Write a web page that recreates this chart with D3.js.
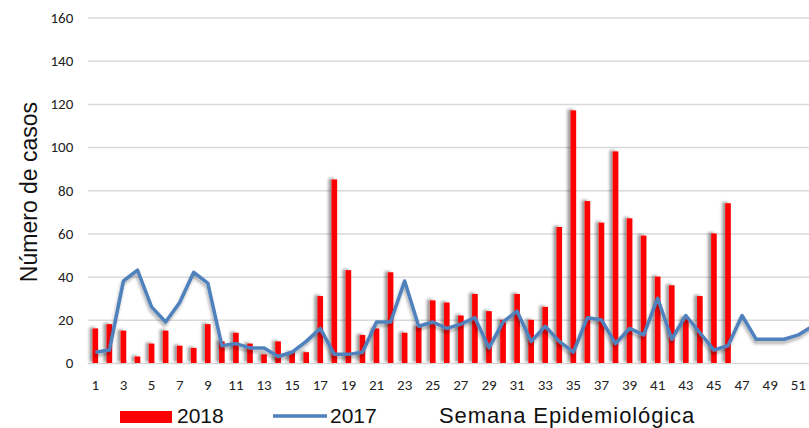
<!DOCTYPE html>
<html>
<head>
<meta charset="utf-8">
<script src="https://cdn.jsdelivr.net/npm/d3@7"></script>
<style>
  body { margin: 0; background: #fff; }
  svg { display: block; }
  .legend text, .title { font-family: "Liberation Sans", Arial, sans-serif; fill: #111; }
</style>
</head>
<body>
<div id="chart"></div>
<script>
// Semana epidemiológica 1..52
var weeks = d3.range(1, 53);

// casos 2018 (barras) - semanas 1 a 46
var cases2018 = [16, 18, 15, 3, 9, 15, 8, 7, 18, 10,
                 14, 9, 4, 10, 5, 5, 31, 85, 43, 13,
                 16, 42, 14, 17, 29, 28, 22, 32, 24, 20,
                 32, 20, 26, 63, 117, 75, 65, 98, 67, 59,
                 40, 36, 21, 31, 60, 74];

// casos 2017 (linea) - semanas 1 a 52
var cases2017 = [5, 6, 38, 43, 26, 19, 28, 42, 37, 8,
                 9, 7, 7, 3, 5, 10, 16, 4, 4, 5,
                 19, 19, 38, 17, 19, 16, 18, 21, 7, 19,
                 24, 10, 17, 10, 5, 21, 20, 9, 16, 13,
                 30, 11, 22, 14, 6, 8, 22, 11, 11, 11,
                 13, 17];

var yTicks = [0, 20, 40, 60, 80, 100, 120, 140, 160];
var xTicks = weeks.filter(d => d % 2 === 1);

// SVG area
var svgWidth = 809;
var svgHeight = 428;

var chartMargin = { top: 17.5, left: 88.3 };
var width = 731.1;   // runs past the right edge, as in the original
var height = 345.5;

var svg = d3.select("#chart")
    .append("svg")
    .attr("width", svgWidth)
    .attr("height", svgHeight);

// shadows
var defs = svg.append("defs");
var barShadow = defs.append("filter").attr("id", "barShadow")
    .attr("x", "-200%").attr("y", "-20%").attr("width", "400%").attr("height", "140%");
barShadow.append("feDropShadow")
    .attr("dx", -3).attr("dy", -1).attr("stdDeviation", 1.8)
    .attr("flood-color", "#000").attr("flood-opacity", 0.4);
var lineShadow = defs.append("filter").attr("id", "lineShadow")
    .attr("x", "-5%").attr("y", "-20%").attr("width", "110%").attr("height", "140%");
lineShadow.append("feDropShadow")
    .attr("dx", -1).attr("dy", 3).attr("stdDeviation", 1.8)
    .attr("flood-color", "#000").attr("flood-opacity", 0.3);

var chartGroup = svg.append("g")
    .attr("transform", `translate(${chartMargin.left}, ${chartMargin.top})`);

// scales
var xBandScale = d3.scaleBand()
    .domain(weeks)
    .range([0, width])
    .paddingInner(0.6)
    .paddingOuter(0.3);

var yLinearScale = d3.scaleLinear()
    .domain([0, 160])
    .range([height, 0]);

// style tick labels
function styleTicks(g) {
    g.select(".domain").remove();
    g.selectAll(".tick text")
        .style("font-family", "Carlito, Calibri, 'Open Sans', sans-serif")
        .style("font-size", "15px")
        .style("fill", "#222");
}

// gridlines
chartGroup.append("g")
    .call(d3.axisLeft(yLinearScale).tickValues(yTicks).tickSize(-width).tickFormat(""))
    .call(g => g.select(".domain").remove())
    .call(g => g.selectAll("line").attr("stroke", "#d9d9d9").attr("stroke-width", 1.5));

// y axis labels
chartGroup.append("g")
    .call(d3.axisLeft(yLinearScale).tickValues(yTicks).tickSize(0).tickPadding(15))
    .call(styleTicks);

// x axis labels
chartGroup.append("g")
    .attr("transform", `translate(0, ${height})`)
    .call(d3.axisBottom(xBandScale).tickValues(xTicks).tickSize(0).tickPadding(16))
    .call(styleTicks);

// bars 2018
chartGroup.append("g")
    .attr("filter", "url(#barShadow)")
    .selectAll("rect")
    .data(cases2018)
    .enter()
    .append("rect")
    .attr("x", (d, i) => xBandScale(weeks[i]))
    .attr("y", d => yLinearScale(d))
    .attr("width", xBandScale.bandwidth())
    .attr("height", d => height - yLinearScale(d))
    .attr("fill", "#ff0000");

// line 2017
var line = d3.line()
    .x((d, i) => xBandScale(weeks[i]) + xBandScale.bandwidth() / 2)
    .y(d => yLinearScale(d));

chartGroup.append("path")
    .datum(cases2017)
    .attr("d", line)
    .attr("fill", "none")
    .attr("stroke", "#4f81bd")
    .attr("stroke-width", 3.5)
    .attr("stroke-linejoin", "round")
    .attr("filter", "url(#lineShadow)");

// y axis title
svg.append("text")
    .attr("class", "title")
    .attr("transform", "translate(37, 192) rotate(-90)")
    .attr("text-anchor", "middle")
    .attr("font-size", "23px")
    .text("Número de casos");

// legend
var legend = svg.append("g").attr("class", "legend");
legend.append("rect")
    .attr("x", 120).attr("y", 411)
    .attr("width", 52).attr("height", 12)
    .attr("fill", "#ff0000");
legend.append("text")
    .attr("x", 177).attr("y", 423)
    .attr("font-size", "21px")
    .text("2018");
legend.append("line")
    .attr("x1", 273).attr("x2", 327)
    .attr("y1", 416).attr("y2", 416)
    .attr("stroke", "#4f81bd").attr("stroke-width", 3.5);
legend.append("text")
    .attr("x", 330).attr("y", 423)
    .attr("font-size", "21px")
    .text("2017");
legend.append("text")
    .attr("x", 439).attr("y", 423)
    .attr("font-size", "22px")
    .attr("letter-spacing", "0.9px")
    .text("Semana Epidemiológica");
</script>
</body>
</html>
